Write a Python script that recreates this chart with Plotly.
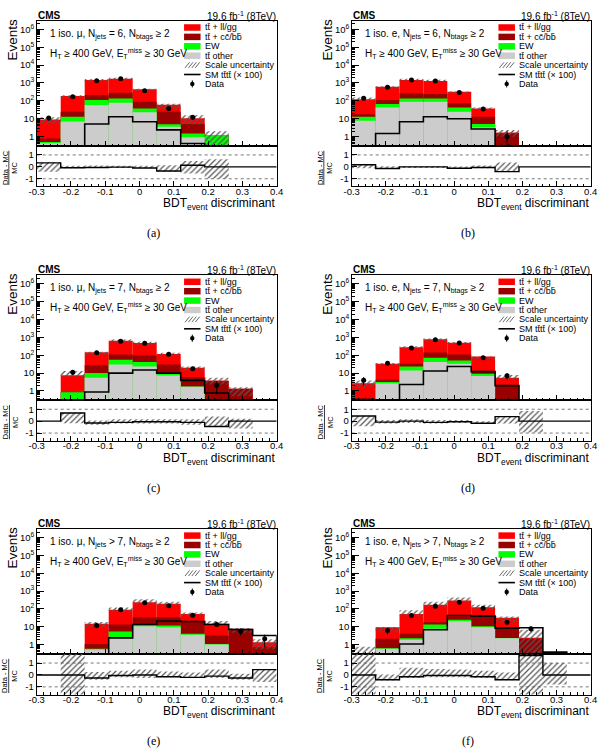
import numpy as np
import plotly.graph_objects as go

# ---------------- data ----------------
BIN_EDGES = [-0.30, -0.23, -0.16, -0.09, -0.02, 0.05, 0.12, 0.19, 0.26, 0.33, 0.40]
X_TICKS = [-0.3, -0.2, -0.1, 0.0, 0.1, 0.2, 0.3, 0.4]
X_TICK_LABELS = ["-0.3", "-0.2", "-0.1", "0", "0.1", "0.2", "0.3", "0.4"]
R_TICKS = [-1, 0, 1]
R_TICK_LABELS = ["-1", "0", "1"]

# (a) 1 iso. mu, Njets = 6
a_tt_other = [0.45, 7, 59, 79, 23, 3.6, 0.92, 0, 0, 0]
a_ew = [0.05, 6, 53, 59, 15, 1.3, 0.58, 1.24, 0, 0]
a_tt_ccbb = [0.3, 12, 101, 149, 52, 20.1, 3.6, 0, 0, 0]
a_tt_llgg = [8.2, 160, 1257, 1453, 350, 36, 5.5, 0, 0, 0]
a_data = [11, 170, 1340, 1700, 370, 38, 12, 0, 0, 0]
a_sm = [0, 0, 5.1, 13, 6.9, 2.4, 0.42, 0, 0, 0]
a_ratio = [0.33, -0.08, -0.05, -0.02, -0.1, -0.35, 0.13, 0, 0, 0]
a_unc_lo = [-0.42, -0.12, -0.1, -0.1, -0.12, -0.42, -0.55, -0.97, 0, 0]
a_unc_hi = [0.36, 0.1, 0.12, 0.1, 0.1, 0.14, 0.5, 0.64, 0, 0]

# (b) 1 iso. e, Njets = 6
b_tt_other = [7.8, 43, 90, 90, 25, 3.3, 0, 0, 0, 0]
b_ew = [5.2, 24, 48, 48, 18, 1.8, 0, 0, 0, 0]
b_tt_ccbb = [5, 45, 126, 102, 30, 7.9, 1.5, 0, 0, 0]
b_tt_llgg = [104, 508, 1206, 1050, 252, 25, 0.2, 0, 0, 0]
b_data = [140, 570, 1470, 1290, 290, 35, 1, 0, 0, 0]
b_sm = [0, 1.5, 6.9, 13, 10, 2.7, 0, 0, 0, 0]
b_ratio = [0.18, -0.14, 0.0, 0.0, -0.12, -0.05, -0.4, 0, 0, 0]
b_unc_lo = [-0.12, -0.18, -0.08, -0.08, -0.14, -0.12, -0.42, 0, 0, 0]
b_unc_hi = [0.25, 0.05, 0.08, 0.08, 0.03, 0.12, 0.37, 0, 0, 0]

# (c) 1 iso. mu, Njets = 7
c_tt_other = [0, 0, 5.5, 30, 23.5, 7.4, 1.7, 0, 0, 0]
c_ew = [0, 0.85, 4.5, 25, 17.5, 2.6, 0.1, 0, 0, 0]
c_tt_ccbb = [0, 0, 17, 53, 54, 20, 4.2, 3.5, 1.35, 0]
c_tt_llgg = [0, 6.65, 120, 542, 390, 88, 14, 0.4, 0, 0]
c_data = [0, 11, 135, 600, 465, 113, 17.5, 2.1, 0, 0]
c_sm = [0, 0, 0.88, 10, 15, 10, 3.9, 0.77, 0, 0]
c_ratio = [0, 0.68, -0.15, -0.1, -0.05, -0.05, -0.1, -0.45, 0, 0]
c_unc_lo = [0, -0.17, -0.3, -0.2, -0.2, -0.2, -0.3, -0.4, -0.62, 0]
c_unc_hi = [0, 0.73, 0.05, 0.15, 0.15, 0.15, 0.15, 0.4, 0.2, 0]

# (d) 1 iso. e, Njets = 7
d_tt_other = [0, 2.6, 14, 41, 33, 6.8, 0, 0, 0, 0]
d_ew = [0, 0.6, 9.5, 30, 18, 2.4, 0, 0, 0, 0]
d_tt_ccbb = [0.4, 1.1, 9.5, 69, 57, 3.8, 1.9, 0, 0, 0]
d_tt_llgg = [2.3, 28.7, 244, 640, 392, 71, 3.6, 0, 0, 0]
d_data = [4, 36, 255, 720, 485, 71, 7.2, 0, 0, 0]
d_sm = [0, 0, 2.3, 13, 23.5, 12, 2.0, 0, 0, 0]
d_ratio = [0.43, -0.08, 0.0, -0.1, -0.05, -0.18, 0.38, 0, 0, 0]
d_unc_lo = [-0.43, -0.2, -0.15, -0.2, -0.15, -0.2, -0.2, -0.95, 0, 0]
d_unc_hi = [0.43, 0.1, 0.15, 0.1, 0.1, 0.0, 0.4, 0.85, 0, 0]

# (e) 1 iso. mu, Njets > 7
e_tt_other = [0, 0, 0.55, 2.7, 11, 9.7, 3.6, 1.04, 0, 0]
e_ew = [0, 0, 0.05, 2.8, 2.6, 2.3, 0.5, 0.06, 0, 0]
e_tt_ccbb = [0, 0, 0.5, 8.1, 21.4, 23, 15.9, 2.2, 7, 0.74]
e_tt_llgg = [0, 0, 13.7, 76.4, 205, 159, 33, 11.5, 0.8, 0.66]
e_data = [0, 0, 11.9, 90, 220, 150, 45, 13.6, 5.8, 2.2]
e_sm = [0, 0, 0, 2.45, 13.6, 21, 20, 13.6, 7.2, 3.3]
e_ratio = [0, 0, -0.25, -0.05, 0.0, -0.15, -0.2, -0.1, -0.25, 0.45]
e_unc_lo = [0, -1.7, -0.4, -0.2, -0.25, -0.2, -0.25, -0.25, -0.4, -0.6]
e_unc_hi = [0, 1.8, 0.25, 0.35, 0.45, 0.3, 0.2, 0.45, 0.1, 0.45]

# (f) 1 iso. e, Njets > 7
f_tt_other = [0, 0.6, 1.9, 7.8, 21, 9.7, 2.35, 0, 0, 0]
f_ew = [0, 0.05, 0.45, 5.8, 4, 1.3, 0.05, 0, 0, 0]
f_tt_ccbb = [0, 1.55, 1.75, 4.4, 13, 32, 6.5, 2.2, 0, 0]
f_tt_llgg = [0.28, 7.4, 48.9, 152, 262, 83, 23.1, 0.3, 0, 0]
f_data = [0, 6.3, 43, 143, 240, 110, 18, 7.8, 0, 0]
f_sm = [0, 0, 1.1, 6.9, 43, 40, 8.5, 8.9, 0.39, 0]
f_ratio = [0, -0.4, -0.15, -0.05, -0.05, -0.15, -0.4, 1.63, 0, 0]
f_unc_lo = [-1.7, -0.47, -0.25, -0.2, -0.2, -0.25, -0.45, -1.7, -0.8, 0]
f_unc_hi = [1.8, 0.03, 0.6, 0.5, 0.45, 0.35, 0.2, 1.8, 1.0, 0]

PANELS = [
    dict(tag="(a)", lep="μ", nj="= 6", comps=(a_tt_other, a_ew, a_tt_ccbb, a_tt_llgg),
         data=a_data, sm=a_sm, ratio=a_ratio, lo=a_unc_lo, hi=a_unc_hi),
    dict(tag="(b)", lep="e", nj="= 6", comps=(b_tt_other, b_ew, b_tt_ccbb, b_tt_llgg),
         data=b_data, sm=b_sm, ratio=b_ratio, lo=b_unc_lo, hi=b_unc_hi),
    dict(tag="(c)", lep="μ", nj="= 7", comps=(c_tt_other, c_ew, c_tt_ccbb, c_tt_llgg),
         data=c_data, sm=c_sm, ratio=c_ratio, lo=c_unc_lo, hi=c_unc_hi),
    dict(tag="(d)", lep="e", nj="= 7", comps=(d_tt_other, d_ew, d_tt_ccbb, d_tt_llgg),
         data=d_data, sm=d_sm, ratio=d_ratio, lo=d_unc_lo, hi=d_unc_hi),
    dict(tag="(e)", lep="μ", nj="> 7", comps=(e_tt_other, e_ew, e_tt_ccbb, e_tt_llgg),
         data=e_data, sm=e_sm, ratio=e_ratio, lo=e_unc_lo, hi=e_unc_hi),
    dict(tag="(f)", lep="e", nj="> 7", comps=(f_tt_other, f_ew, f_tt_ccbb, f_tt_llgg),
         data=f_data, sm=f_sm, ratio=f_ratio, lo=f_unc_lo, hi=f_unc_hi),
]

TB = "t\u0304"
LEGEND_LABELS = [f"t{TB} + ll/gg", f"t{TB} + cc\u0304/bb\u0304", "EW", f"t{TB} other",
                 "Scale uncertainty", f"SM t{TB}t{TB} (× 100)", "Data"]

# ---------------- style / geometry ----------------
W, H = 601, 748
FONT = "Liberation Sans, Arial, Helvetica, sans-serif"
RED, DRED, GREEN, GREY = "#ff0000", "#990000", "#00ff00", "#cccccc"
HATCH = "#555555"
COLS = [(36.7, 276.7), (351.7, 590.7)]
ROWS = [20.7, 275.0, 528.8]
MAIN_H, RATIO_H = 125.3, 40.4
TINY = 1e-4


def px(x):
    return x / W


def py(y):
    return 1 - y / H


edges = np.array(BIN_EDGES)
centers = (edges[:-1] + edges[1:]) / 2
widths = edges[1:] - edges[:-1]

fig = go.Figure()
layout = dict(template="none", width=W, height=H,
              margin=dict(l=0, r=0, t=0, b=0, pad=0, autoexpand=False),
              paper_bgcolor="white", plot_bgcolor="white", barmode="overlay",
              showlegend=False, font=dict(family=FONT, color="black"))
shapes, annots = [], []

axis_common = dict(showline=True, linecolor="black", linewidth=1, mirror=True, automargin=False,
                   showgrid=False, zeroline=False, ticks="inside", tickcolor="black", tickwidth=1,
                   tickfont=dict(family=FONT, color="black"))


def ann(x, y, text, size, xanchor="left", yanchor="middle", family=FONT, **kw):
    a = dict(x=px(x), y=py(y), xref="paper", yref="paper", text=text, showarrow=False,
             xanchor=xanchor, yanchor=yanchor, borderpad=0,
             font=dict(family=family, size=size, color="black"))
    a.update(kw)
    annots.append(a)


for i, p in enumerate(PANELS):
    col, row = i % 2, i // 2
    x0, x1 = COLS[col]
    top = ROWS[row]
    mb = top + MAIN_H
    rb = mb + RATIO_H
    km, kr = 2 * i + 1, 2 * i + 2
    xm = "x" if km == 1 else f"x{km}"
    ym = "y" if km == 1 else f"y{km}"
    xr, yr = f"x{kr}", f"y{kr}"

    grey, ew, ccbb, llgg = [np.array(c, dtype=float) for c in p["comps"]]
    c1 = grey
    c2 = c1 + ew
    c3 = c2 + ccbb
    c4 = c3 + llgg
    for vals, color in [(c4, RED), (c3, DRED), (c2, GREEN), (c1, GREY)]:
        fig.add_bar(x=centers, y=vals, base=[TINY] * 10, width=widths, xaxis=xm, yaxis=ym,
                    marker=dict(color=color, line=dict(width=0)), hoverinfo="skip")

    lo = np.array(p["lo"], dtype=float)
    hi = np.array(p["hi"], dtype=float)
    m = c4 > 0
    blo = np.maximum(c4 * (1 + lo), TINY)
    bhi = c4 * (1 + hi)
    fig.add_bar(x=centers[m], y=(bhi - blo)[m], base=blo[m], width=widths[m], xaxis=xm, yaxis=ym,
                marker=dict(color=HATCH, line=dict(width=0),
                            pattern=dict(shape="/", size=4, solidity=0.3, fillmode="replace")),
                hoverinfo="skip")

    sm = np.array(p["sm"], dtype=float)
    smv = np.where(sm > 0, sm, TINY)
    sx = [edges[0]] + list(edges) + [edges[-1]]
    sy = [TINY] + list(smv) + [smv[-1], TINY]
    fig.add_scatter(x=sx, y=sy, mode="lines", line=dict(color="black", width=1.6, shape="hv"),
                    xaxis=xm, yaxis=ym, hoverinfo="skip")

    d = np.array(p["data"], dtype=float)
    md = d > 0
    err = np.sqrt(d)
    errm = d - np.maximum(d - err, 1e-3)
    fig.add_scatter(x=centers[md], y=d[md], mode="markers", xaxis=xm, yaxis=ym,
                    marker=dict(color="black", size=5),
                    error_y=dict(type="data", array=err[md], arrayminus=errm[md],
                                 color="black", thickness=1, width=0),
                    hoverinfo="skip")

    # ratio pad
    mr = hi > lo
    fig.add_bar(x=centers[mr], y=(hi - lo)[mr], base=lo[mr], width=widths[mr], xaxis=xr, yaxis=yr,
                marker=dict(color=HATCH, line=dict(width=0),
                            pattern=dict(shape="/", size=4, solidity=0.3, fillmode="replace")),
                hoverinfo="skip")
    r = list(p["ratio"])
    fig.add_scatter(x=list(edges), y=r + [r[-1]], mode="lines", xaxis=xr, yaxis=yr,
                    line=dict(color="black", width=1.4, shape="hv"), hoverinfo="skip")

    # axes
    kx = "xaxis" if km == 1 else f"xaxis{km}"
    ky = "yaxis" if km == 1 else f"yaxis{km}"
    layout[kx] = dict(axis_common, domain=[px(x0), px(x1)], anchor=ym, range=[-0.3, 0.4],
                      tickmode="array", tickvals=X_TICKS, showticklabels=False, ticklen=5,
                      minor=dict(tickmode="linear", tick0=-0.3, dtick=0.02, ticks="inside",
                                 ticklen=2.5, tickcolor="black"))
    layout[ky] = dict(axis_common, domain=[py(mb), py(top)], anchor=xm, type="log",
                      range=[-0.52, 6.48], tickmode="linear", tick0=0, dtick=1,
                      exponentformat="power", ticklen=7,
                      tickfont=dict(family=FONT, color="black", size=7.6),
                      minor=dict(ticks="inside", ticklen=3.5, tickcolor="black", dtick="D1"))
    layout[f"xaxis{kr}"] = dict(axis_common, domain=[px(x0), px(x1)], anchor=yr, range=[-0.3, 0.4],
                                tickmode="array", tickvals=X_TICKS, ticktext=X_TICK_LABELS,
                                tickfont=dict(family=FONT, color="black", size=9.5), ticklen=5,
                                ticklabelstandoff=-4,
                                minor=dict(tickmode="linear", tick0=-0.3, dtick=0.02,
                                           ticks="inside", ticklen=2.5, tickcolor="black"))
    layout[f"yaxis{kr}"] = dict(axis_common, domain=[py(rb), py(mb)], anchor=xr,
                                range=[-1.64, 1.75], tickmode="array", tickvals=R_TICKS,
                                ticktext=R_TICK_LABELS, ticklen=5,
                                tickfont=dict(family=FONT, color="black", size=9.5))

    for yv in (-1, 1):
        shapes.append(dict(type="line", xref=f"{xr} domain", yref=yr, x0=0, x1=1, y0=yv, y1=yv,
                           line=dict(color="#777777", width=1, dash="dot"), layer="below"))

    # texts
    ann(x0, top - 5.2, "<b>CMS</b>", 10)
    ann(x1, top - 5.2, "19.6 fb<sup>-1</sup> (8TeV)", 10, xanchor="right")
    ann(x0 + 12.3, top + 13.8,
        f"1 iso. {p['lep']}, N<sub>jets</sub> {p['nj']}, N<sub>btags</sub> ≥ 2", 10)
    ann(x0 + 12.3, top + 32.6, "H<sub>T</sub> ≥ 400 GeV, E<sub>T</sub><sup>miss</sup> ≥ 30 GeV", 10)
    ann(x0 - 24.2, top + 19.3, "Events", 13.5, xanchor="center", textangle=-90)
    ann(x0 - 26.5, mb + RATIO_H / 2 + 1.5,
        '<span style="text-decoration:underline">Data - MC</span><br>MC', 7.5,
        xanchor="center", textangle=-90)
    ann(x1, rb + 9, "BDT<sub>event</sub> discriminant", 12, xanchor="right", yanchor="top")
    ann((x0 + x1) / 2 - 3, rb + 47, p["tag"], 12, xanchor="center",
        family="Liberation Serif, Times New Roman, serif")

    # legend
    lx = x0 + 0.614 * (x1 - x0)
    sw, sh = 16.5, 6.5
    for j, lab in enumerate(LEGEND_LABELS):
        cy = top + 6.8 + 9.4 * j
        if j < 4:
            shapes.append(dict(type="rect", xref="paper", yref="paper",
                               x0=px(lx), x1=px(lx + sw), y0=py(cy + sh / 2), y1=py(cy - sh / 2),
                               fillcolor=[RED, DRED, GREEN, GREY][j], line=dict(width=0)))
        elif j == 4:
            for k in range(4):
                hx = lx + 1 + 3.4 * k
                shapes.append(dict(type="line", xref="paper", yref="paper",
                                   x0=px(hx), x1=px(hx + 4.5), y0=py(cy + 2.8), y1=py(cy - 2.8),
                                   line=dict(color=HATCH, width=0.9)))
        elif j == 5:
            shapes.append(dict(type="line", xref="paper", yref="paper",
                               x0=px(lx), x1=px(lx + sw), y0=py(cy), y1=py(cy),
                               line=dict(color="black", width=1.6)))
        else:
            cx = lx + sw / 2
            shapes.append(dict(type="line", xref="paper", yref="paper",
                               x0=px(cx), x1=px(cx), y0=py(cy - 3.5), y1=py(cy + 3.5),
                               line=dict(color="black", width=1)))
            shapes.append(dict(type="circle", xref="paper", yref="paper",
                               x0=px(cx - 2.2), x1=px(cx + 2.2), y0=py(cy + 2.2), y1=py(cy - 2.2),
                               fillcolor="black", line=dict(width=0)))
        ann(lx + 19.5, cy, lab, 9)

layout["shapes"] = shapes
layout["annotations"] = annots
fig.update_layout(**layout)
fig.write_html("out.html")
